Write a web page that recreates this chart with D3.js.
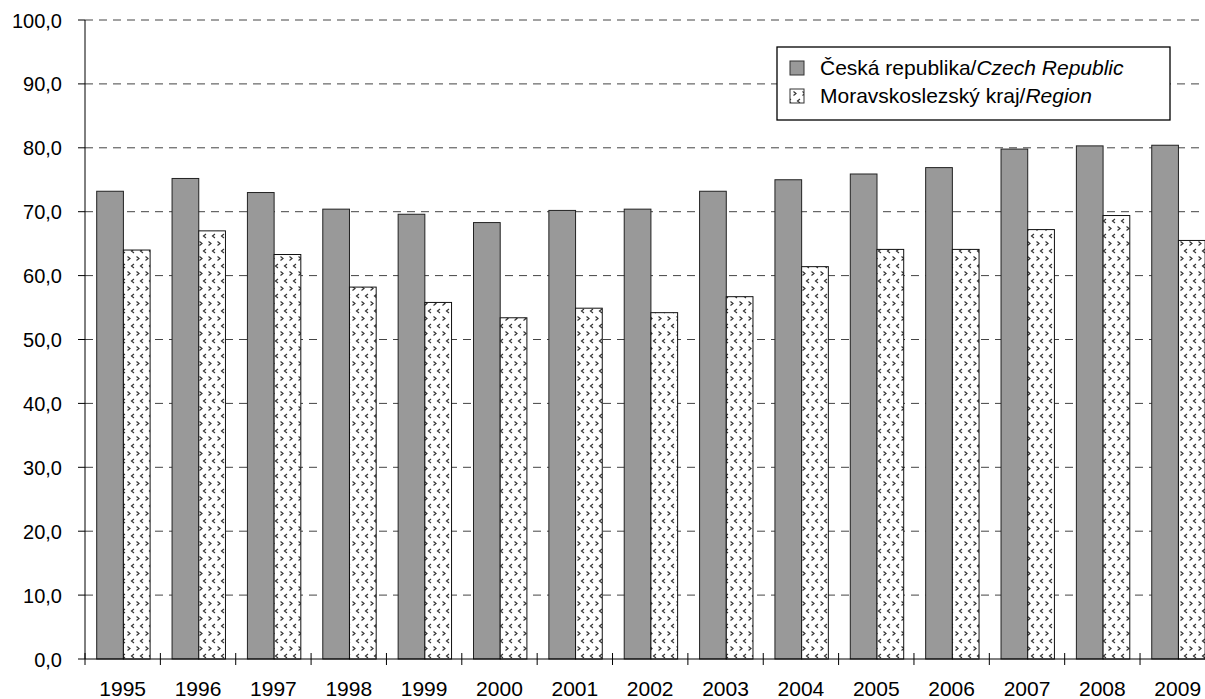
<!DOCTYPE html>
<html>
<head>
<meta charset="utf-8">
<script src="https://d3js.org/d3.v7.min.js"></script>
<style>
  body { margin: 0; background: #fff; }
  text { font-family: "Liberation Sans", Arial, sans-serif; }
</style>
</head>
<body>
<svg id="chart" width="1205" height="699"></svg>
<script>
const years = ["1995","1996","1997","1998","1999","2000","2001","2002","2003","2004","2005","2006","2007","2008","2009"];
const czech = [73.2, 75.2, 73.0, 70.4, 69.6, 68.3, 70.2, 70.4, 73.2, 75.0, 75.9, 76.9, 79.8, 80.3, 80.4];
const region = [64.0, 67.0, 63.3, 58.2, 55.8, 53.4, 54.9, 54.2, 56.7, 61.4, 64.1, 64.1, 67.2, 69.4, 65.5];
const yTicks = [0, 10, 20, 30, 40, 50, 60, 70, 80, 90, 100];
const legendLabels = [["Česká republika/", "Czech Republic"], ["Moravskoslezský kraj/", "Region"]];

const svg = d3.select("#chart");
const plotLeft = 85, plotTop = 20, plotBottom = 659;
const band = 75.36;

const x = d3.scaleBand().domain(years).range([plotLeft, plotLeft + band * years.length]).padding(0);
const y = d3.scaleLinear().domain([0, 100]).range([plotBottom, plotTop]);
const fmt = v => d3.format(".1f")(v).replace(".", ",");

// pattern for the region bars (small < > marks)
const defs = svg.append("defs");
const pat = defs.append("pattern")
    .attr("id", "dots")
    .attr("patternUnits", "userSpaceOnUse")
    .attr("width", 9).attr("height", 15);
pat.append("rect").attr("width", 9).attr("height", 15).attr("fill", "#fff");
pat.append("path").attr("d", "M1.5,1.5 L4,3.5 L1.5,5.5").attr("stroke", "#333").attr("fill", "none").attr("stroke-width", 1.2);
pat.append("path").attr("d", "M8,9 L5.5,11 L8,13").attr("stroke", "#333").attr("fill", "none").attr("stroke-width", 1.2);

// gridlines
svg.append("g").selectAll("line").data(yTicks.filter(d => d > 0)).join("line")
    .attr("x1", plotLeft).attr("x2", x.range()[1])
    .attr("y1", d => y(d)).attr("y2", d => y(d))
    .attr("stroke", "#444").attr("stroke-width", 1)
    .attr("stroke-dasharray", "8,6");

// bars
const barW = 26.7, off = 11.7;
const g = svg.append("g");
g.selectAll("rect.cz").data(years).join("rect")
    .attr("class", "cz")
    .attr("x", d => x(d) + off)
    .attr("y", (d, i) => y(czech[i]))
    .attr("width", barW)
    .attr("height", (d, i) => plotBottom - y(czech[i]))
    .attr("fill", "#999999").attr("stroke", "#222").attr("stroke-width", 1);
g.selectAll("rect.reg").data(years).join("rect")
    .attr("class", "reg")
    .attr("x", d => x(d) + off + barW)
    .attr("y", (d, i) => y(region[i]))
    .attr("width", barW)
    .attr("height", (d, i) => plotBottom - y(region[i]))
    .attr("fill", "url(#dots)").attr("stroke", "#111").attr("stroke-width", 1);

// y axis
svg.append("line").attr("x1", plotLeft).attr("x2", plotLeft).attr("y1", plotTop).attr("y2", plotBottom)
    .attr("stroke", "#000");
svg.append("g").selectAll("line").data(yTicks).join("line")
    .attr("x1", plotLeft - 7).attr("x2", plotLeft).attr("y1", d => y(d)).attr("y2", d => y(d))
    .attr("stroke", "#000");
svg.append("g").selectAll("text").data(yTicks).join("text")
    .attr("x", 62).attr("y", d => y(d) + 7.5)
    .attr("text-anchor", "end")
    .attr("font-size", 20)
    .text(d => fmt(d));

// x axis
svg.append("line").attr("x1", plotLeft).attr("x2", x.range()[1]).attr("y1", plotBottom).attr("y2", plotBottom)
    .attr("stroke", "#000");
svg.append("g").selectAll("line").data(years).join("line")
    .attr("x1", d => x(d)).attr("x2", d => x(d))
    .attr("y1", plotBottom - 6).attr("y2", plotBottom + 6)
    .attr("stroke", "#000");
svg.append("g").selectAll("text").data(years).join("text")
    .attr("x", d => x(d) + x.bandwidth() / 2)
    .attr("y", 696)
    .attr("text-anchor", "middle")
    .attr("font-size", 21)
    .text(d => d);

// legend
const lg = svg.append("g");
lg.append("rect").attr("x", 777).attr("y", 47).attr("width", 393).attr("height", 73)
    .attr("fill", "#fff").attr("stroke", "#000").attr("stroke-width", 1.3);
const fills = ["#999999", "url(#dots)"];
legendLabels.forEach((l, i) => {
    const yy = 61 + i * 28;
    lg.append("rect").attr("x", 790).attr("y", yy).attr("width", 14).attr("height", 14)
        .attr("fill", fills[i]).attr("stroke", "#333");
    const t = lg.append("text").attr("x", 820).attr("y", yy + 14).attr("font-size", 21);
    t.append("tspan").text(l[0]);
    t.append("tspan").attr("font-style", "italic").text(l[1]);
});
</script>
</body>
</html>
